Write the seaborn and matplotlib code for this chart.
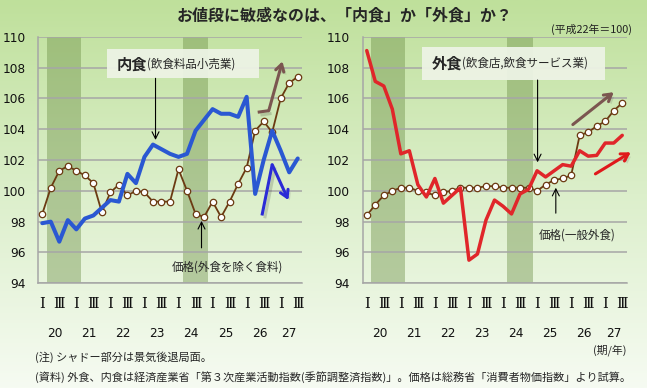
import numpy as np
import matplotlib
matplotlib.use("Agg")
import matplotlib.pyplot as plt
import matplotlib.patheffects as pe
import matplotlib.colors as mcolors
from matplotlib.patches import Rectangle
import seaborn as sns

# quarters: 平成20年Ⅰ期 .. 平成27年Ⅲ期
quarters = list(range(31))
quarter_labels = ['Ⅰ', '', 'Ⅲ', ''] * 7 + ['Ⅰ', '', 'Ⅲ']
year_labels = ['20', '21', '22', '23', '24', '25', '26', '27']
year_lengths = [4, 4, 4, 4, 4, 4, 4, 3]
recessions = [(1, 4), (17, 19)]  # first / last quarter index of shaded periods

# 内食 (飲食料品小売業) and its price (外食を除く食料)
naishoku = [97.9, 98.0, 96.7, 98.1, 97.5, 98.2, 98.4, 98.9, 99.4, 99.3,
            101.1, 100.5, 102.2, 103.0, 102.7, 102.4, 102.2, 102.4, 103.9, 104.6,
            105.3, 105.0, 105.0, 104.8, 106.1, 99.8, 102.0, 103.9, 102.6, 101.2, 102.1]
price_food = [98.5, 100.2, 101.3, 101.6, 101.3, 101.0, 100.5, 98.6, 99.9, 100.4,
              99.7, 100.0, 99.9, 99.3, 99.3, 99.3, 101.4, 100.0, 98.5, 98.3,
              99.3, 98.3, 99.3, 100.45, 101.5, 103.9, 104.5, 103.8, 106.0, 107.0, 107.4]

# 外食 (飲食店,飲食サービス業) and its price (一般外食)
gaishoku = [109.1, 107.1, 106.8, 105.3, 102.4, 102.6, 100.4, 99.6, 100.8, 99.2,
            99.7, 100.2, 95.5, 95.9, 98.1, 99.4, 99.0, 98.5, 99.8, 100.1,
            101.3, 100.9, 101.3, 101.7, 101.6, 102.6, 102.25, 102.3, 103.1, 103.1, 103.6]
price_eat = [98.4, 99.1, 99.7, 100.0, 100.2, 100.2, 100.0, 99.9, 99.7, 99.9,
             100.0, 100.2, 100.2, 100.2, 100.3, 100.3, 100.2, 100.2, 100.2, 100.2,
             100.0, 100.4, 100.7, 100.8, 101.0, 103.6, 103.8, 104.2, 104.5, 105.2, 105.7]

# trend arrows drawn over the charts (quarter position, index value)
arrows_left = [([(25.3, 105.1), (26.6, 105.2), (28.2, 108.4)], '#7b5650'),
               ([(25.8, 98.4), (27.0, 101.7), (28.9, 99.4)], '#2b2bd6')]
arrows_right = [([(24.2, 104.3), (29.0, 106.4)], '#7b5650'),
                ([(26.85, 101.1), (31.0, 102.5)], '#e0191b')]

sns.set_style("white")
plt.rcParams['font.family'] = ['DejaVu Sans', 'Noto Sans CJK JP']
JP = ['Noto Sans CJK JP', 'DejaVu Sans']
ROMAN = ['DejaVu Serif', 'Noto Sans CJK JP']

GRID = '#a6a6a6'
BROWN = '#6b3a12'

fig = plt.figure(figsize=(6.47, 3.88), dpi=100)

# background gradient
bg = fig.add_axes([0, 0, 1, 1], zorder=-10)
cmap = mcolors.LinearSegmentedColormap.from_list('bg', ['#f6fbf2', '#dcefcb', '#bfe09b'])
bg.imshow(np.linspace(0, 1, 256).reshape(-1, 1), aspect='auto', cmap=cmap,
          extent=[0, 1, 0, 1], origin='lower')
bg.set_axis_off()


def draw_arrow(ax, pts, color):
    shadow = [pe.SimplePatchShadow(offset=(2, -2), alpha=0.15), pe.Normal()]
    if len(pts) > 2:
        xs = [p[0] for p in pts[:-1]]
        ys = [p[1] for p in pts[:-1]]
        ax.plot(xs, ys, color=color, lw=2.2, solid_capstyle='butt', zorder=6,
                path_effects=[pe.SimpleLineShadow(offset=(2, -2), alpha=0.15), pe.Normal()])
    ax.annotate('', xy=pts[-1], xytext=pts[-2], annotation_clip=False, zorder=6,
                arrowprops=dict(arrowstyle='->,head_length=0.5,head_width=0.3',
                                color=color, lw=2.2, shrinkA=0, shrinkB=0,
                                path_effects=shadow))


def draw_panel(ax, main, price, main_color, main_lw):
    ax.set_facecolor('none')
    for a, b in recessions:
        ax.axvspan(a - 0.5, b + 0.5, color='#678a40', alpha=0.4, lw=0, zorder=0)

    sns.lineplot(x=quarters, y=price, ax=ax, color=BROWN, lw=1.3, marker='o',
                 markersize=4.6, markerfacecolor='white', markeredgecolor=BROWN,
                 markeredgewidth=0.9, zorder=4)
    sns.lineplot(x=quarters, y=main, ax=ax, color=main_color, lw=main_lw, zorder=5)

    ax.set_xlim(-0.5, 30.5)
    ax.set_ylim(94, 110)
    ax.set_yticks(range(94, 111, 2))
    ax.yaxis.grid(True, color=GRID, lw=1.1)
    ax.xaxis.grid(False)
    ax.set_axisbelow(True)
    for s in ['top', 'right']:
        ax.spines[s].set_visible(False)
    for s in ['left', 'bottom']:
        ax.spines[s].set_color(GRID)
        ax.spines[s].set_linewidth(1.1)

    bounds = np.cumsum([0] + year_lengths) - 0.5
    ax.set_xticks(bounds)
    ax.set_xticks(np.arange(-0.5, 31, 1), minor=True)
    ax.tick_params(axis='x', which='major', length=42.5, width=0.9, color=GRID,
                   labelbottom=False)
    ax.tick_params(axis='x', which='minor', length=22.5, width=0.9, color=GRID)
    ax.tick_params(axis='y', length=4, width=0.9, color=GRID, labelsize=8.7, pad=5,
                   labelcolor='#111111')
    ax.set_xlabel('')
    ax.set_ylabel('')

    tr = ax.get_xaxis_transform()
    for q, lab in zip(quarters, quarter_labels):
        if lab:
            ax.text(q, -0.085, lab, transform=tr, ha='center', va='center',
                    fontsize=10.5, family=ROMAN, color='#111111')
    for start, n, lab in zip(bounds[:-1], year_lengths, year_labels):
        ax.text(start + n / 2, -0.205, lab, transform=tr, ha='center', va='center',
                fontsize=8.7, color='#111111')


def label_box(ax, x0, x1, y0, y1, tx, ty, head, tail):
    ax.add_patch(Rectangle((x0, y0), x1 - x0, y1 - y0, facecolor='#edf3e5',
                           edgecolor='none', alpha=0.95, zorder=7))
    t = ax.text(tx, ty, head, fontsize=11, fontweight='bold', family=JP,
                ha='left', va='center', zorder=8)
    ax.annotate(tail, xy=(1, 0.5), xycoords=t, xytext=(0, 0),
                textcoords='offset points', ha='left', va='center',
                fontsize=8.3, family=JP, zorder=8)


def pointer(ax, x, y_from, y_to):
    ax.annotate('', xy=(x, y_to), xytext=(x, y_from), zorder=8,
                arrowprops=dict(arrowstyle='->,head_length=0.5,head_width=0.25',
                                color='black', lw=0.8, shrinkA=0, shrinkB=0))


# left panel: 内食
axl = fig.add_axes([38 / 647, 1 - 283.3 / 388, 264 / 647, 246.6 / 388])
draw_panel(axl, naishoku, price_food, '#2a58d2', 2.9)
label_box(axl, 7.58, 25.42, 107.3, 109.18, 8.7, 108.2, '内食', '(飲食料品小売業)')
pointer(axl, 13.3, 107.3, 103.3)
axl.text(21.7, 95.05, '価格(外食を除く食料)', fontsize=8.3, family=JP,
         ha='center', va='center')
pointer(axl, 18.7, 96.3, 98.05)
for pts, c in arrows_left:
    draw_arrow(axl, pts, c)

# right panel: 外食
axr = fig.add_axes([362.5 / 647, 1 - 283.3 / 388, 264 / 647, 246.6 / 388])
draw_panel(axr, gaishoku, price_eat, '#e0262a', 2.5)
label_box(axr, 6.46, 28.03, 107.19, 109.35, 7.6, 108.27, '外食', '(飲食店,飲食サービス業)')
pointer(axr, 20.06, 107.19, 101.85)
axr.text(24.7, 97.13, '価格(一般外食)', fontsize=8.3, family=JP,
         ha='center', va='center')
pointer(axr, 22.2, 98.55, 100.2)
for pts, c in arrows_right:
    draw_arrow(axr, pts, c)

# titles and notes
fig.text(345 / 647, 1 - 15 / 388, 'お値段に敏感なのは、「内食」か「外食」か？',
         fontsize=11.5, fontweight='bold', family=JP, ha='center', va='center')
fig.text(632 / 647, 1 - 29 / 388, '(平成22年＝100)', fontsize=7.8, family=JP,
         ha='right', va='center', color='#222222')
fig.text(626 / 647, 1 - 350 / 388, '(期/年)', fontsize=7.8, family=JP,
         ha='right', va='center')
fig.text(35 / 647, 1 - 357 / 388, '(注) シャドー部分は景気後退局面。', fontsize=8.0,
         family=JP, ha='left', va='center')
fig.text(35 / 647, 1 - 377 / 388,
         '(資料) 外食、内食は経済産業省「第３次産業活動指数(季節調整済指数)」。価格は総務省「消費者物価指数」より試算。',
         fontsize=8.0, family=JP, ha='left', va='center')

fig.savefig('out.png', dpi=100)
